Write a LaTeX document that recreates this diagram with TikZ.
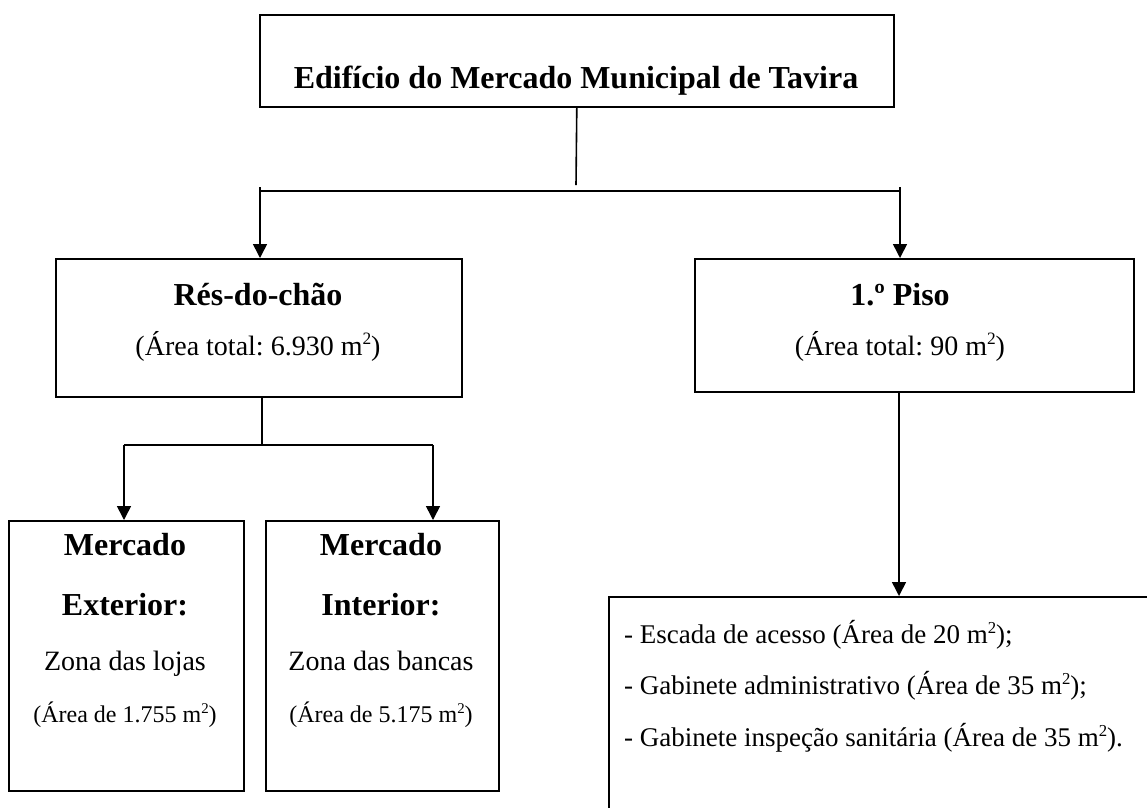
\documentclass[tikz,border=0pt]{standalone}
\usepackage{fontspec}
\usepackage{graphicx}
\setmainfont{Liberation Serif}
\usetikzlibrary{arrows.meta}
\tikzset{
  box/.style={draw, line width=1.6pt, anchor=north west, inner sep=0pt},
  conn/.style={line width=1.6pt},
  arr/.style={line width=1.6pt, -{Triangle[width=14pt,length=14pt]}},
  head/.style={font=\fontsize{32}{36}\selectfont\bfseries, anchor=base, inner sep=0pt},
  body/.style={font=\fontsize{28}{32}\selectfont, anchor=base, inner sep=0pt},
  small/.style={font=\fontsize{24}{28}\selectfont, anchor=base, inner sep=0pt},
  item/.style={font=\fontsize{27}{31}\selectfont, anchor=base west, inner sep=0pt},
}
\newcommand{\sqm}{m\raisebox{0.36em}{\scalebox{0.62}{2}}}
\frenchspacing
\begin{document}
\begin{tikzpicture}[x=1pt,y=-1pt]
\useasboundingbox (0,0) rectangle (1147,807);
% boxes
\node[box, minimum width=634pt, minimum height=92pt] (top) at (259,14) {};
\node[box, minimum width=406pt, minimum height=138pt] (res) at (55,258) {};
\node[box, minimum width=439pt, minimum height=133pt] (piso) at (694,258) {};
\node[box, minimum width=235pt, minimum height=270pt] (ext) at (8,520) {};
\node[box, minimum width=233pt, minimum height=270pt] (int) at (265,520) {};
\node[box, minimum width=560pt, minimum height=240pt] (list) at (608,596) {};
% texts
\node[head] (t0) at (576,88) {Edifício do Mercado Municipal de Tavira};
\node[head] (t1) at (258,305) {Rés-do-chão};
\node[body] (t2) at (258,355) {(Área total: 6.930 \sqm)};
\node[head] (t3) at (900,305) {1.º Piso};
\node[body] (t4) at (900,355) {(Área total: 90 \sqm)};
\node[head] (t5) at (125,555) {Mercado};
\node[head] (t6) at (125,615) {Exterior:};
\node[body] (t7) at (125,670) {Zona das lojas};
\node[small] (t8) at (125,722) {(Área de 1.755 \sqm)};
\node[head] (t9) at (381,555) {Mercado};
\node[head] (t10) at (381,615) {Interior:};
\node[body] (t11) at (381,670) {Zona das bancas};
\node[small] (t12) at (381,722) {(Área de 5.175 \sqm)};
\node[item] (l1) at (624,643) {- Escada de acesso (Área de 20 \sqm);};
\node[item] (l2) at (624,694) {- Gabinete administrativo (Área de 35 \sqm);};
\node[item] (l3) at (624,746) {- Gabinete inspeção sanitária (Área de 35 \sqm).};
% connectors
\coordinate (j1) at (576,185);
\coordinate (hl) at (260,191);
\coordinate (hr) at (900,191);
\coordinate (hlt) at (260,187);
\coordinate (hrt) at (900,187);
\draw[conn] (top.south) -- (j1);
\draw[conn] (hl) -- (hr);
\draw[arr] (hlt) -- (hlt |- res.north);
\draw[arr] (hrt) -- (hrt |- piso.north);
\coordinate (j2) at (262,445);
\coordinate (el) at (124,445);
\coordinate (er) at (433,445);
\draw[conn] (j2 |- res.south) -- (j2);
\draw[conn] (el) -- (er);
\draw[arr] (el) -- (el |- ext.north);
\draw[arr] (er) -- (er |- int.north);
\coordinate (p1) at (899,391);
\draw[arr] (p1 |- piso.south) -- (p1 |- list.north);
\end{tikzpicture}
\end{document}
